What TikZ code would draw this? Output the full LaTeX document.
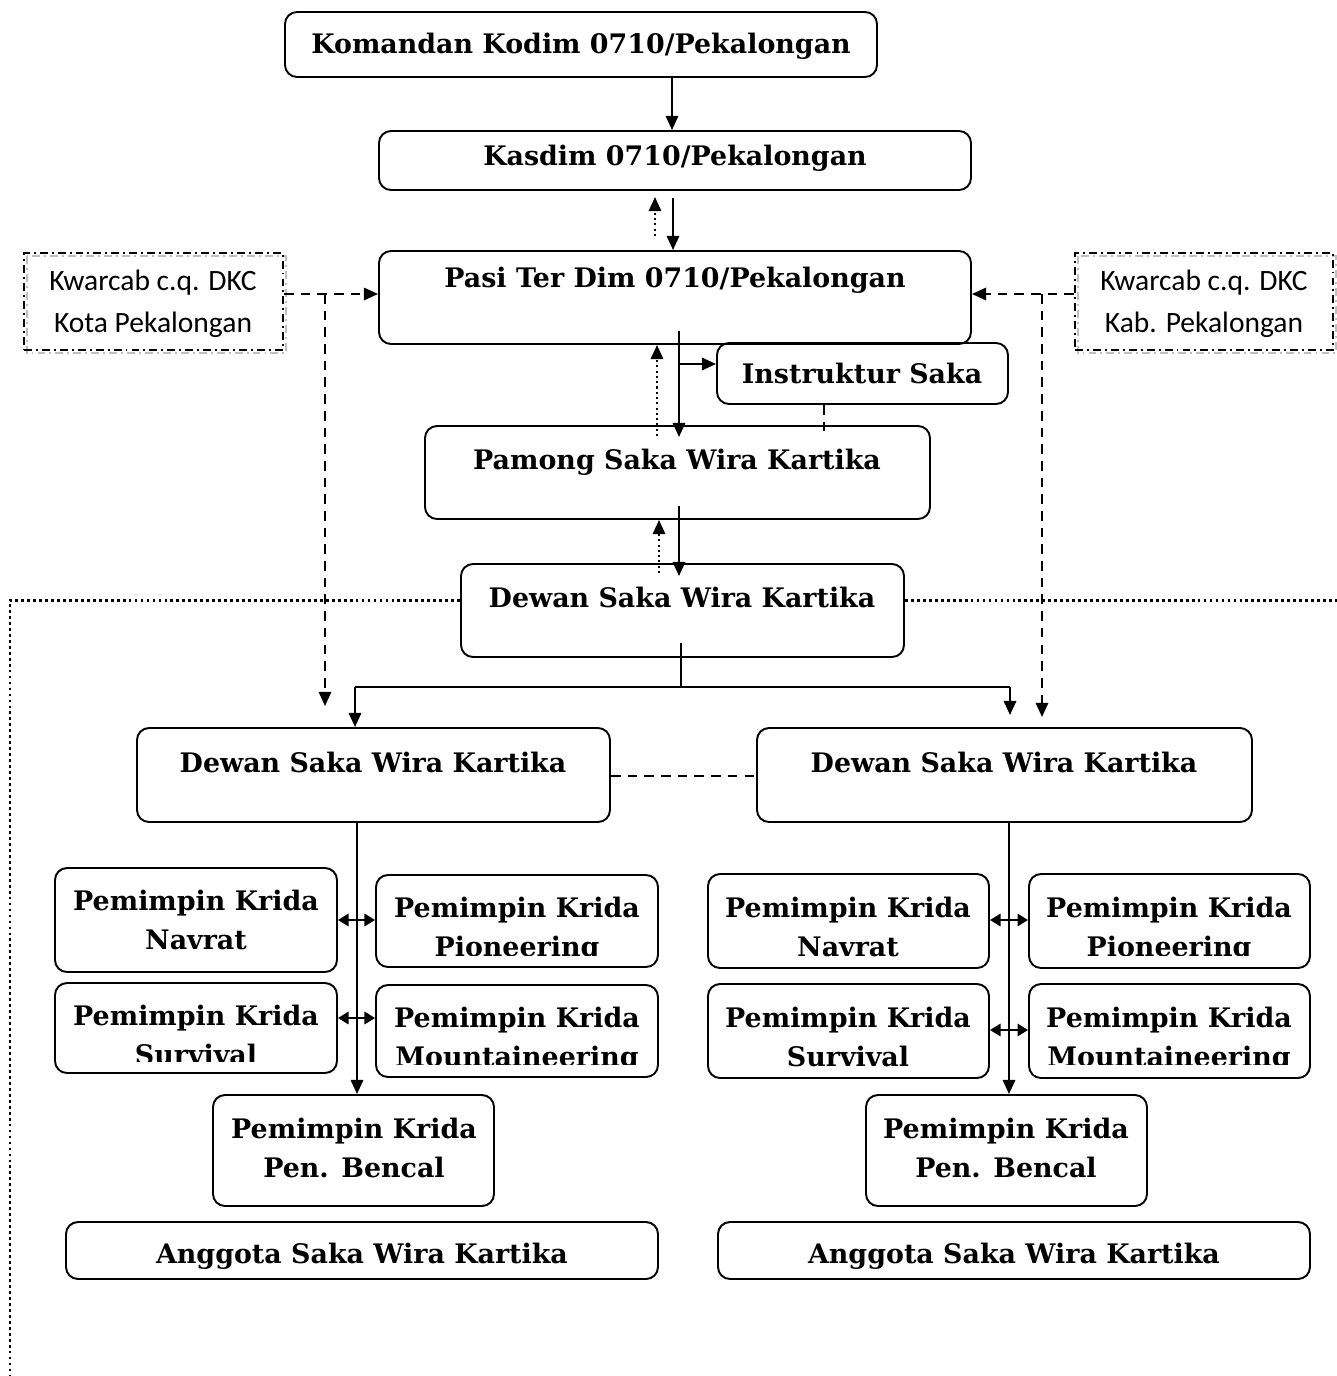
\documentclass[tikz,border=0pt]{standalone}
\usepackage{fontspec}
\setmainfont{DejaVu Serif}
\newfontfamily\calib{Carlito}
\usetikzlibrary{arrows.meta,fit,calc}
\begin{document}
\begin{tikzpicture}[x=0.02cm,y=-0.02cm,
 box/.style={draw,line width=1.1pt,rounded corners=0.24cm,inner sep=0pt},
 kbox/.style={draw,line width=1.1pt,inner sep=0pt,dash pattern=on 4.5pt off 2.3pt on 1.1pt off 2.3pt},
 kshadow/.style={draw=black!25,line width=1.1pt,dash pattern=on 4.5pt off 2.3pt on 1.1pt off 2.3pt},
 t/.style={font=\bfseries\fontsize{15.3}{22}\selectfont,align=center,inner sep=0pt,anchor=base},
 t2/.style={font=\bfseries\fontsize{15.3}{22}\selectfont,align=center,inner sep=0pt},
 k/.style={font=\calib\fontsize{16.8}{24}\selectfont,align=center,inner sep=0pt},
 tip/.tip={Triangle[length=8pt,width=7pt]},
 stip/.tip={Triangle[length=6pt,width=7pt]},
 ln/.style={line width=1.3pt},
 arr/.style={line width=1.3pt,-tip},
 darr/.style={line width=1.2pt,dash pattern=on 1.2pt off 1.8pt,-tip},
 dsh/.style={line width=1.2pt,dash pattern=on 5.5pt off 4pt},
 dsharr/.style={dsh,-tip},
 frame/.style={line width=1.7pt,dash pattern=on 1.6pt off 1.8pt},
 dbl/.style={line width=1.3pt,stip-stip},
 cover/.style={fill=white,draw=none}
]
\path[use as bounding box] (0,0) rectangle (1337,1376);

% ---- boxes ----
\node[box,fit={(285,12)(877,77)}] (kom) {};
\node[t] (komt) at (581,53) {Komandan Kodim 0710/Pekalongan};
\node[box,fit={(379,131)(971,190)}] (kas) {};
\node[t] (kast) at (675,165) {Kasdim 0710/Pekalongan};
\node[box,fit={(379,251)(971,344)}] (pasi) {};
\node[t] (pasit) at (675,287) {Pasi Ter Dim 0710/Pekalongan};
\node[box,fit={(717,343)(1008,404)}] (ins) {};
\node[t] (inst) at (862,383) {Instruktur Saka};
\node[box,fit={(425,426)(930,519)}] (pam) {};
\node[t] (pamt) at (677,469) {Pamong Saka Wira Kartika};
\node[box,fit={(461,564)(904,657)}] (dew) {};
\node[t] (dewt) at (682,607) {Dewan Saka Wira Kartika};
\node[box,fit={(137,728)(610,822)}] (dl) {};
\node[t] (dlt) at (373,772) {Dewan Saka Wira Kartika};
\node[box,fit={(757,728)(1252,822)}] (dr) {};
\node[t] (drt) at (1004,772) {Dewan Saka Wira Kartika};

% Kwarcab boxes
\draw[kshadow] (27,256) rectangle (286,353);
\node[kbox,fit={(24,253)(283,350)}] (kl) {};
\node[k] (klt) at (153,304) {Kwarcab c.q. DKC\\Kota Pekalongan};
\draw[kshadow] (1078,256) rectangle (1336,353);
\node[kbox,fit={(1075,253)(1333,350)}] (kr) {};
\node[k] (krt) at (1204,304) {Kwarcab c.q. DKC\\Kab. Pekalongan};

% Krida left
\node[box,fit={(55,868)(337,972)}] (navL) {};
\node[t2] (navLt) at (196,922) {Pemimpin Krida\strut\\Navrat\strut};
\node[box,fit={(376,875)(658,967)}] (pioL) {};
\node[t2] (pioLt) at (517,929) {Pemimpin Krida\strut\\Pioneering\strut};
\node[box,fit={(55,983)(337,1073)}] (surL) {};
\node[t2] (surLt) at (196,1037) {Pemimpin Krida\strut\\Survival\strut};
\node[box,fit={(376,985)(658,1077)}] (mouL) {};
\node[t2] (mouLt) at (517,1039) {Pemimpin Krida\strut\\Mountaineering\strut};
\node[box,fit={(213,1095)(494,1206)}] (pbl) {};
\node[t2] (pblt) at (354,1150) {Pemimpin Krida\strut\\Pen. Bencal\strut};
\node[box,fit={(66,1222)(658,1279)}] (agL) {};
\node[t] (agLt) at (362,1263) {Anggota Saka Wira Kartika};

% Krida right
\node[box,fit={(708,874)(989,968)}] (navR) {};
\node[t2] (navRt) at (848,929) {Pemimpin Krida\strut\\Navrat\strut};
\node[box,fit={(1029,874)(1310,968)}] (pioR) {};
\node[t2] (pioRt) at (1169,929) {Pemimpin Krida\strut\\Pioneering\strut};
\node[box,fit={(708,984)(989,1078)}] (surR) {};
\node[t2] (surRt) at (848,1039) {Pemimpin Krida\strut\\Survival\strut};
\node[box,fit={(1029,984)(1310,1078)}] (mouR) {};
\node[t2] (mouRt) at (1169,1039) {Pemimpin Krida\strut\\Mountaineering\strut};
\node[box,fit={(866,1095)(1147,1206)}] (pbr) {};
\node[t2] (pbrt) at (1006,1150) {Pemimpin Krida\strut\\Pen. Bencal\strut};
\node[box,fit={(718,1222)(1310,1279)}] (agR) {};
\node[t] (agRt) at (1014,1263) {Anggota Saka Wira Kartika};

% clipped text covers
\fill[cover] (381,956) rectangle (653,964);
\fill[cover] (60,1062) rectangle (332,1070);
\fill[cover] (381,1065) rectangle (653,1074);
\fill[cover] (713,957) rectangle (984,965);
\fill[cover] (1034,956) rectangle (1305,965);
\fill[cover] (1034,1065) rectangle (1305,1075);

% ---- coordinates ----
\coordinate (p1) at (672,77);
\coordinate (p2) at (673,198);
\coordinate (p3) at (655,236);
\coordinate (p3b) at (655,197);
\coordinate (p4) at (679,331);
\coordinate (p5) at (679,364);
\coordinate (p6) at (657,436);
\coordinate (p7) at (824,434);
\coordinate (p8) at (679,506);
\coordinate (p9) at (659,573);
\coordinate (q0) at (681,643);
\coordinate (q1) at (681,687);
\coordinate (qL) at (355,687);
\coordinate (qR) at (1010,687);
\coordinate (r294) at (0,294);
\coordinate (kL1) at (325,294);
\coordinate (kL2) at (325,706);
\coordinate (kR1) at (1042,294);
\coordinate (kR2) at (1042,717);
\coordinate (f0) at (10,600);
\coordinate (fB) at (10,1376);
\coordinate (fR) at (1337,600);
\coordinate (y776) at (0,776);
\coordinate (lx) at (357,0);
\coordinate (rx) at (1009,0);
\coordinate (y920) at (0,920);
\coordinate (y1018) at (0,1018);
\coordinate (y1030) at (0,1030);

% ---- connectors ----
\draw[arr] (p1) -- (kas.north -| p1);
\draw[arr] (p2) -- (pasi.north -| p2);
\draw[darr] (p3) -- (p3b);
\draw[arr] (p4) -- ($(pam.north -| p4)+(0,12)$);
\draw[arr] (p5) -- (ins.west |- p5);
\draw[darr] (p6) -- (pasi.south -| p6);
\draw[dsh] (ins.south -| p7) -- (p7);
\draw[arr] (p8) -- ($(dew.north -| p8)+(0,13)$);
\draw[darr] (p9) -- (pam.south -| p9);
\draw[ln] (q0) -- (q1);
\draw[ln] (qL) -- (qR);
\draw[arr] (qL) -- (dl.north -| qL);
\draw[arr] (qR) -- ($(dr.north -| qR)+(0,-12)$);

\draw[dsharr] (kl.east |- r294) -- (pasi.west |- r294);
\draw[dsharr] (kL1) -- (kL2);
\draw[dsharr] (kr.west |- r294) -- (pasi.east |- r294);
\draw[dsharr] (kR1) -- (kR2);

\draw[frame] (dew.west |- f0) -- (f0) -- (fB);
\draw[frame] (dew.east |- f0) -- (fR);

\draw[dsh] (dl.east |- y776) -- (dr.west |- y776);

\draw[arr] (dl.south -| lx) -- (pbl.north -| lx);
\draw[arr] (dr.south -| rx) -- (pbr.north -| rx);

\draw[dbl] (navL.east |- y920) -- (pioL.west |- y920);
\draw[dbl] (surL.east |- y1018) -- (mouL.west |- y1018);
\draw[dbl] (navR.east |- y920) -- (pioR.west |- y920);
\draw[dbl] (surR.east |- y1030) -- (mouR.west |- y1030);
\end{tikzpicture}
\end{document}
